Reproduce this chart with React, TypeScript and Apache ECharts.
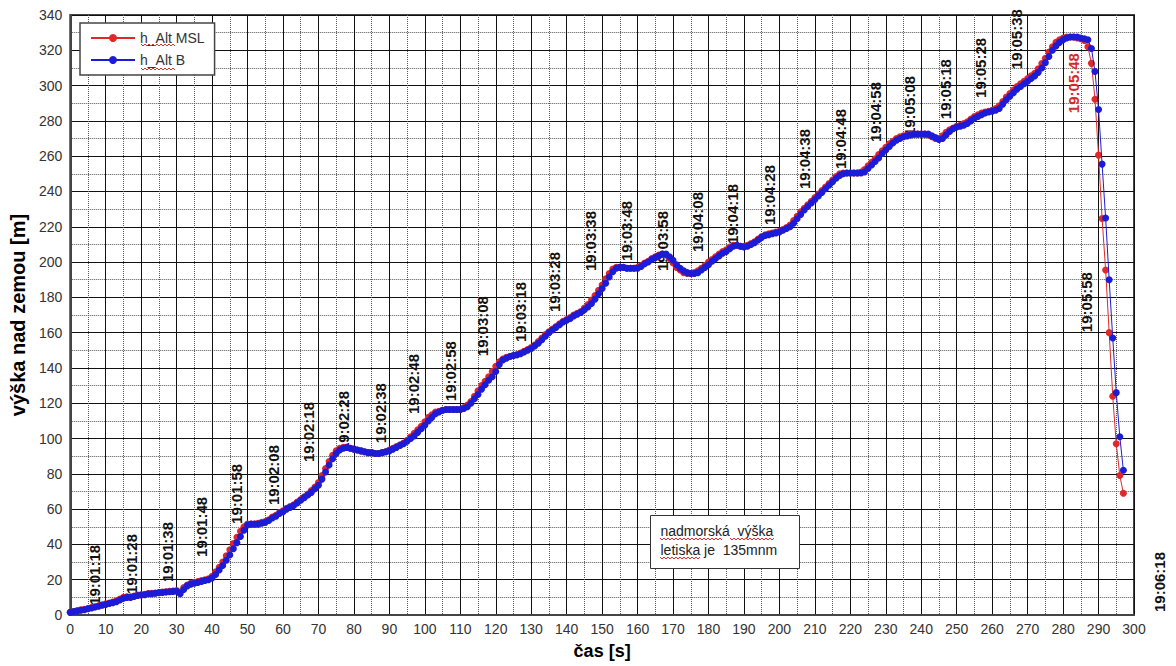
import React, { useEffect, useRef } from "react";
import * as echarts from "echarts";

const seriesNames = ["h_Alt MSL", "h_Alt B"];

// sampled once per second, t = 0 .. 297 s
const altMSL = [
  1.5, 2, 2.5, 3, 3.2, 3.7, 4.2, 4.7, 5.2, 5.8,
  6.3, 6.8, 7.3, 8, 9, 10, 10.3, 10.3, 10.8, 11.3,
  11.5, 11.8, 12.2, 12.3, 12.5, 12.8, 13, 13.2, 13.4, 13.6,
  13.8, 13, 15.5, 17, 18, 18.5, 19, 19.5, 20, 20.5,
  22, 24.5, 27, 30, 33.5, 37, 40.5, 44, 47.5, 50,
  51.5, 51.5, 51.5, 52, 52.5, 53, 54, 55.5, 56.5, 58,
  59, 60.5, 61.5, 62.5, 64, 65.5, 67, 68.5, 70.5, 72.5,
  75, 79, 83, 87, 90.5, 93, 94.5, 95, 95, 94.5,
  94, 93.5, 93, 92.5, 92, 92, 91.5, 91.5, 92, 92.5,
  93.5, 94.5, 95.5, 96.5, 97.5, 99, 101, 103, 105, 107,
  109.5, 112, 113.5, 115, 115.5, 116, 116.5, 116.5, 116.5, 116.5,
  116.5, 117.5, 119, 121, 124, 127, 130, 132.5, 135, 138,
  141, 143.5, 145, 146, 146.5, 147, 147.5, 148.5, 149.5, 150.5,
  151.5, 153, 155, 157, 159, 160.5, 162, 163.5, 165, 166.5,
  167.5, 168.5, 170, 171, 172, 174, 176, 178.5, 181, 184,
  187, 190.5, 193.5, 196, 197, 197, 197, 196.5, 196.5, 196.5,
  197, 198, 199.5, 200.5, 202, 203, 204, 204.5, 204, 202,
  199.5, 197, 195.5, 194, 193.5, 193.5, 194, 195, 196.5, 198,
  200, 201.5, 203, 204.5, 206, 207, 208.5, 209.5, 209.5, 209,
  209, 209.5, 210.5, 211.5, 213, 214.5, 215.5, 216, 216.5, 217,
  217.5, 218.5, 219.5, 221, 223.5, 226, 228.5, 230.5, 232.5, 234.5,
  236.5, 238.5, 240.5, 242.5, 244.5, 246.5, 248.5, 250, 250.5, 250.5,
  250.5, 250.5, 250.5, 251, 252.5, 254.5, 256.5, 258.5, 261, 263,
  265, 267, 268.5, 270, 271, 271.5, 272, 272.5, 272.5, 272.5,
  272.5, 272.5, 272, 271, 270, 270, 271.5, 273.5, 275, 276,
  277, 277.5, 278.5, 279.5, 281, 282.5, 283.5, 284.5, 285, 285.5,
  286, 287, 288.5, 291, 293.5, 295.5, 297.5, 299.5, 301, 302.5,
  304, 305.5, 307, 309.5, 312.5, 315.5, 319, 322, 324.5, 326,
  327, 327.5, 327.5, 327.5, 327, 326.5, 325.5, 322, 312.6, 292.3,
  260.6, 224.7, 195.5, 160, 124, 97, 79, 69,
];

const altB = [
  1.5, 2, 2.3, 2.7, 3, 3.5, 4, 4.5, 5, 5.5,
  6, 6.5, 7, 7.5, 8.5, 9.5, 10, 10, 10.5, 11,
  11.3, 11.5, 12, 12, 12.3, 12.6, 12.8, 13, 13.2, 13.4,
  13.5, 12, 14.5, 16.5, 17.5, 18, 18.5, 19, 19.5, 20,
  21, 23, 25.5, 28, 31, 34, 37.5, 41, 44.5, 48,
  51, 51.5, 51.5, 51.5, 52, 52.5, 53.5, 55, 56, 57.5,
  58.5, 60, 61, 62, 63.5, 65, 66.5, 68, 69.5, 71.5,
  73.5, 77, 81, 85, 88.5, 91.5, 93.5, 94.5, 95, 94.5,
  94, 93.5, 93, 92.5, 92, 92, 91.5, 91.5, 92, 92.5,
  93, 94, 95, 96, 97, 98.5, 100, 101.5, 103.5, 105.5,
  107.5, 110, 112, 114, 115, 116, 116.5, 116.5, 116.5, 116.5,
  116.5, 117, 118, 120, 122.5, 125, 128, 130.5, 133, 135,
  138, 142, 144.5, 145.5, 146.5, 147, 147.5, 148, 149, 150,
  151, 152.5, 154, 156, 158, 160, 161.5, 163, 164.5, 166,
  167, 168, 169.5, 170.5, 171.5, 173, 174.5, 176.5, 179, 182,
  185, 188, 191.5, 194.5, 196.5, 197, 197, 196.5, 196.5, 196.5,
  196.5, 197.5, 199, 200, 201.5, 202.5, 203.5, 204.5, 204.5, 203,
  201, 198.5, 196.5, 195, 194, 193.5, 193.5, 194, 195.5, 197,
  198.5, 200.5, 202, 203.5, 205, 206, 207.5, 209, 209.5, 209,
  208.5, 209, 210, 211, 212.5, 214, 215, 215.5, 216, 216.5,
  217, 218, 219, 220, 222, 224.5, 227, 229.5, 231.5, 233.5,
  235.5, 237.5, 239.5, 241.5, 243.5, 245.5, 247.5, 249, 250, 250.5,
  250.5, 250.5, 250.5, 250.5, 251, 253, 255, 257, 259, 261.5,
  263.5, 265.5, 267.5, 269, 270, 271, 271.5, 272, 272.5, 272.5,
  272.5, 272.5, 272.5, 271.5, 270.5, 269.5, 270, 272, 274, 275.5,
  276.5, 277, 277.5, 278.5, 280, 281.5, 282.5, 283.5, 284.5, 285,
  285.5, 286, 287, 289.5, 292, 294, 296, 298, 299.5, 301,
  302.5, 304, 305.5, 307.5, 310, 313, 316.5, 320, 322.5, 324.5,
  326, 327, 327.5, 327.5, 327.5, 327, 326.5, 326, 321, 308,
  286.5, 255.5, 225, 190, 157, 126, 101, 82,
];

// clock-time annotations: text, position in data units (t [s], h [m])
const timeLabels = [
  "19:01:18", "19:01:28", "19:01:38", "19:01:48", "19:01:58", "19:02:08",
  "19:02:18", "19:02:28", "19:02:38", "19:02:48", "19:02:58", "19:03:08",
  "19:03:18", "19:03:28", "19:03:38", "19:03:48", "19:03:58", "19:04:08",
  "19:04:18", "19:04:28", "19:04:38", "19:04:48", "19:04:58", "19:05:08",
  "19:05:18", "19:05:28", "19:05:38", "19:05:48", "19:05:58", "19:06:18",
];
const timeLabelT = [
  6.8, 17.2, 27.5, 36.9, 47, 57.2,
  67.1, 77, 87.4, 96.7, 107.1, 116.4,
  126.9, 136.7, 146.6, 157, 166.9, 176.8,
  186.9, 197.3, 207.2, 217.1, 227, 236.8,
  246.7, 256.6, 267, 282.8, 286.7, 307.3,
];
const timeLabelH = [
  22.7, 28.9, 35.7, 49.9, 68.6, 79.3,
  103.7, 109.9, 114.4, 130.9, 138.2, 163.7,
  171.7, 188.7, 211.9, 217.6, 211.9, 222.7,
  227.2, 238, 258.4, 269.7, 285, 288.4,
  298, 310, 326.3, 301.4, 177.3, 18.7,
];
const highlightedLabel = "19:05:48";

const noteLines = ["nadmorská  výška", "letiska je  135mnm"];
const xAxisName = "čas [s]";
const yAxisName = "výška nad zemou [m]";

const FONT = "'Liberation Sans', Arial, Helvetica, sans-serif";
const RED = "#e02828";
const BLUE = "#1c1cd8";

// red spell-check squiggle (decoration), horizontal from x1 to x2 at y
function squiggle(x1: number, x2: number, y: number) {
  const pts: number[][] = [];
  let up = true;
  for (let x = x1; x <= x2; x += 2) {
    pts.push([x, up ? y - 1 : y + 1]);
    up = !up;
  }
  return { type: "polyline", z: 20, shape: { points: pts }, style: { stroke: "#e03030", lineWidth: 1, fill: "none" } };
}

export default function App() {
  const ref = useRef<HTMLDivElement>(null);

  useEffect(() => {
    const chart = echarts.init(ref.current!, null, { renderer: "svg" });
    const pairs = (vals: number[]) => vals.map((v, i) => [i, v]);

    const axisLabel = { color: "#333", fontSize: 14, fontFamily: FONT };
    const majorLine = { show: true, lineStyle: { color: "#111", width: 1 } };
    const minorLine = { show: true, lineStyle: { color: "#555", width: 1, type: "dotted" } };

    chart.setOption({
      animation: false,
      backgroundColor: "#fff",
      grid: {
        left: 70, right: 42, top: 15, bottom: 51,
        show: true, borderColor: "#444", borderWidth: 2, backgroundColor: "transparent",
      },
      legend: {
        left: 80, top: 23, orient: "vertical",
        backgroundColor: "#fff", borderColor: "#444", borderWidth: 1.5,
        padding: [8, 10, 8, 10], itemGap: 8, itemWidth: 44, itemHeight: 10,
        textStyle: { color: "#333", fontSize: 14, fontFamily: FONT },
        data: seriesNames,
      },
      xAxis: {
        type: "value", min: 0, max: 300, interval: 10,
        name: xAxisName, nameLocation: "middle", nameGap: 27,
        nameTextStyle: { color: "#000", fontSize: 18, fontWeight: "bold", fontFamily: FONT },
        axisLine: { show: true, lineStyle: { color: "#444", width: 2 } },
        axisTick: { show: false },
        axisLabel: { ...axisLabel, margin: 7 },
        splitLine: majorLine,
        minorTick: { show: false, splitNumber: 2 },
        minorSplitLine: minorLine,
      },
      yAxis: {
        type: "value", min: 0, max: 340, interval: 20,
        name: yAxisName, nameLocation: "middle", nameGap: 40,
        nameTextStyle: { color: "#000", fontSize: 20, fontWeight: "bold", fontFamily: FONT },
        axisLine: { show: true, lineStyle: { color: "#444", width: 2 } },
        axisTick: { show: false },
        axisLabel: { ...axisLabel, margin: 8 },
        splitLine: majorLine,
        minorTick: { show: false, splitNumber: 2 },
        minorSplitLine: minorLine,
      },
      series: [
        {
          name: seriesNames[0], type: "line", data: pairs(altMSL),
          symbol: "circle", symbolSize: 7, showAllSymbol: true, z: 3,
          lineStyle: { color: RED, width: 1 }, itemStyle: { color: RED },
        },
        {
          name: seriesNames[1], type: "line", data: pairs(altB),
          symbol: "circle", symbolSize: 7, showAllSymbol: true, z: 4,
          lineStyle: { color: BLUE, width: 1 }, itemStyle: { color: BLUE },
        },
      ],
    });

    const labelGraphics = timeLabels.map((txt, i) => {
      const [x, y] = chart.convertToPixel({ gridIndex: 0 }, [timeLabelT[i], timeLabelH[i]]) as number[];
      const hl = txt === highlightedLabel;
      return {
        type: "text", x, y, rotation: Math.PI / 2, z: 2,
        style: {
          text: txt, fill: hl ? "#d42a2a" : "#111",
          font: `bold 15px ${FONT}`,
          align: "center", verticalAlign: "middle",
          textAlign: "center", textVerticalAlign: "middle",
        },
      };
    });

    const note = {
      type: "group", left: 650, top: 515, z: 10,
      children: [
        { type: "rect", shape: { x: 0, y: 0, width: 149, height: 53 }, style: { fill: "#fff", stroke: "#333", lineWidth: 1 } },
        { type: "text", x: 10, y: 8, style: { text: noteLines[0], fill: "#222", font: `14px ${FONT}` } },
        { type: "text", x: 10, y: 27, style: { text: noteLines[1], fill: "#222", font: `14px ${FONT}` } },
      ],
    };

    const squiggles = [
      squiggle(141, 176, 45),
      squiggle(141, 176, 69),
      squiggle(660, 722, 539),
      squiggle(730, 774, 539),
      squiggle(660, 700, 558),
    ];

    chart.setOption({ graphic: [...labelGraphics, note, ...squiggles] });

    return () => chart.dispose();
  }, []);

  return <div ref={ref} style={{ position: "absolute", left: 0, top: 0, width: 1176, height: 666 }} />;
}
